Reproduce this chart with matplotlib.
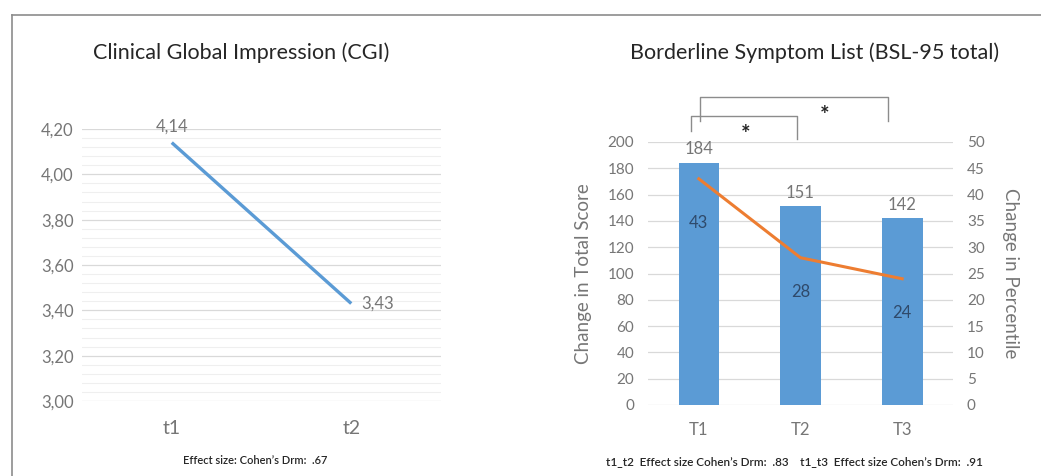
import matplotlib.pyplot as plt
from matplotlib.lines import Line2D
from matplotlib.ticker import FuncFormatter, MultipleLocator

plt.rcParams['font.family'] = ['Lato', 'DejaVu Sans']

cgi_labels = ['t1', 't2']
cgi_values = [4.14, 3.43]

bsl_labels = ['T1', 'T2', 'T3']
bsl_total = [184, 151, 142]
bsl_percentile = [43, 28, 24]

BLUE = '#5b9bd5'
ORANGE = '#ed7d31'
GRAY = '#767676'
DARK = '#262626'

fig = plt.figure(figsize=(10.41, 4.76), dpi=100)

# frame lines of the original screenshot
fig.add_artist(Line2D([12 / 1041, 12 / 1041], [0, 1 - 15 / 476], color='#8c8c8c', lw=1.2))
fig.add_artist(Line2D([12 / 1041, 1], [1 - 15 / 476, 1 - 15 / 476], color='#8c8c8c', lw=1.2))

# ---- left: CGI line chart
ax1 = fig.add_axes([82 / 1041, 75 / 476, 359 / 1041, 272 / 476])
x1 = range(len(cgi_labels))
ax1.plot(x1, cgi_values, color=BLUE, lw=2.4, solid_capstyle='butt')
ax1.set_xlim(-0.5, 1.5)
ax1.set_ylim(3.0, 4.2)
ax1.yaxis.set_major_locator(MultipleLocator(0.2))
ax1.yaxis.set_minor_locator(MultipleLocator(0.04))
ax1.yaxis.set_major_formatter(FuncFormatter(lambda v, p: f'{v:.2f}'.replace('.', ',')))
ax1.grid(axis='y', which='major', color='#d9d9d9', lw=0.9)
ax1.grid(axis='y', which='minor', color='#efefef', lw=0.8)
ax1.set_axisbelow(True)
ax1.set_xticks(list(x1))
ax1.set_xticklabels(cgi_labels, fontsize=14, color=GRAY)
ax1.tick_params(axis='y', labelsize=12, colors=GRAY, length=0, pad=6)
ax1.tick_params(axis='x', length=0, pad=14)
ax1.tick_params(axis='y', which='minor', length=0)
for s in ax1.spines.values():
    s.set_visible(False)
ax1.annotate(f'{cgi_values[0]:.2f}'.replace('.', ','), (0, cgi_values[0]),
             xytext=(0, 6), textcoords='offset points', ha='center', va='bottom',
             fontsize=12, color=GRAY)
ax1.annotate(f'{cgi_values[1]:.2f}'.replace('.', ','), (1, cgi_values[1]),
             xytext=(7, 0), textcoords='offset points', ha='left', va='center',
             fontsize=12, color=GRAY)
fig.text(241 / 1041, 1 - 53 / 476, 'Clinical Global Impression (CGI)',
         ha='center', va='center', fontsize=15.5, color=DARK)
fig.text(255 / 1041, 1 - 460 / 476, 'Effect size: Cohen\u2019s Drm:  .67',
         ha='center', va='center', fontsize=8, color=DARK, fontweight='semibold')

# ---- right: BSL bars + percentile line
ax2 = fig.add_axes([648 / 1041, 71 / 476, 305 / 1041, 263 / 476])
x2 = list(range(len(bsl_labels)))
ax2.bar(x2, bsl_total, width=0.4, color=BLUE, zorder=2)
ax2.set_xlim(-0.5, 2.5)
ax2.set_ylim(0, 200)
ax2.set_yticks(range(0, 201, 20))
ax2.grid(axis='y', color='#d9d9d9', lw=0.9, zorder=0)
ax2.set_axisbelow(True)
ax2.set_xticks(x2)
ax2.set_xticklabels(bsl_labels, fontsize=12, color=GRAY)
ax2.tick_params(axis='y', labelsize=11, colors=GRAY, length=0, pad=10)
ax2.tick_params(axis='x', length=0, pad=12)
ax2.set_ylabel('Change in Total Score', fontsize=13.5, color=GRAY, labelpad=11)
for s in ax2.spines.values():
    s.set_visible(False)
for xi, v in zip(x2, bsl_total):
    ax2.annotate(str(v), (xi, v), xytext=(0, 4), textcoords='offset points',
                 ha='center', va='bottom', fontsize=12, color=GRAY)

ax3 = ax2.twinx()
ax3.plot(x2, bsl_percentile, color=ORANGE, lw=2.2, zorder=3)
ax3.set_ylim(0, 50)
ax3.set_yticks(range(0, 51, 5))
ax3.tick_params(axis='y', labelsize=11, colors=GRAY, length=0, pad=10)
ax3.set_ylabel('Change in Percentile', fontsize=13.5, color=GRAY, rotation=-90, labelpad=25)
for s in ax3.spines.values():
    s.set_visible(False)
for xi, v, off in zip(x2, bsl_percentile, [-32, -25, -25]):
    ax3.annotate(str(v), (xi, v), xytext=(0, off), textcoords='offset points',
                 ha='center', va='center', fontsize=12, color='#2f4a6b')

# significance brackets
brk = dict(color='#8c8c8c', lw=1, clip_on=False)
ax2.plot([-0.08, -0.08, 0.97, 0.97], [208, 220, 220, 202], **brk)
ax2.text(0.46, 206, '*', ha='center', va='center', fontsize=16, color=DARK, fontweight='bold')
ax2.plot([0.01, 0.01, 1.86, 1.86], [216, 234, 234, 216], **brk)
ax2.text(1.24, 220, '*', ha='center', va='center', fontsize=16, color=DARK, fontweight='bold')

fig.text(815 / 1041, 1 - 53 / 476, 'Borderline Symptom List (BSL-95 total)',
         ha='center', va='center', fontsize=15.5, color=DARK)
fig.text(794 / 1041, 1 - 462 / 476,
         't1_t2  Effect size Cohen\u2019s Drm:  .83    t1_t3  Effect size Cohen\u2019s Drm:  .91',
         ha='center', va='center', fontsize=8.5, color=DARK, fontweight='semibold')

fig.savefig('out.png', dpi=100, facecolor='white')
